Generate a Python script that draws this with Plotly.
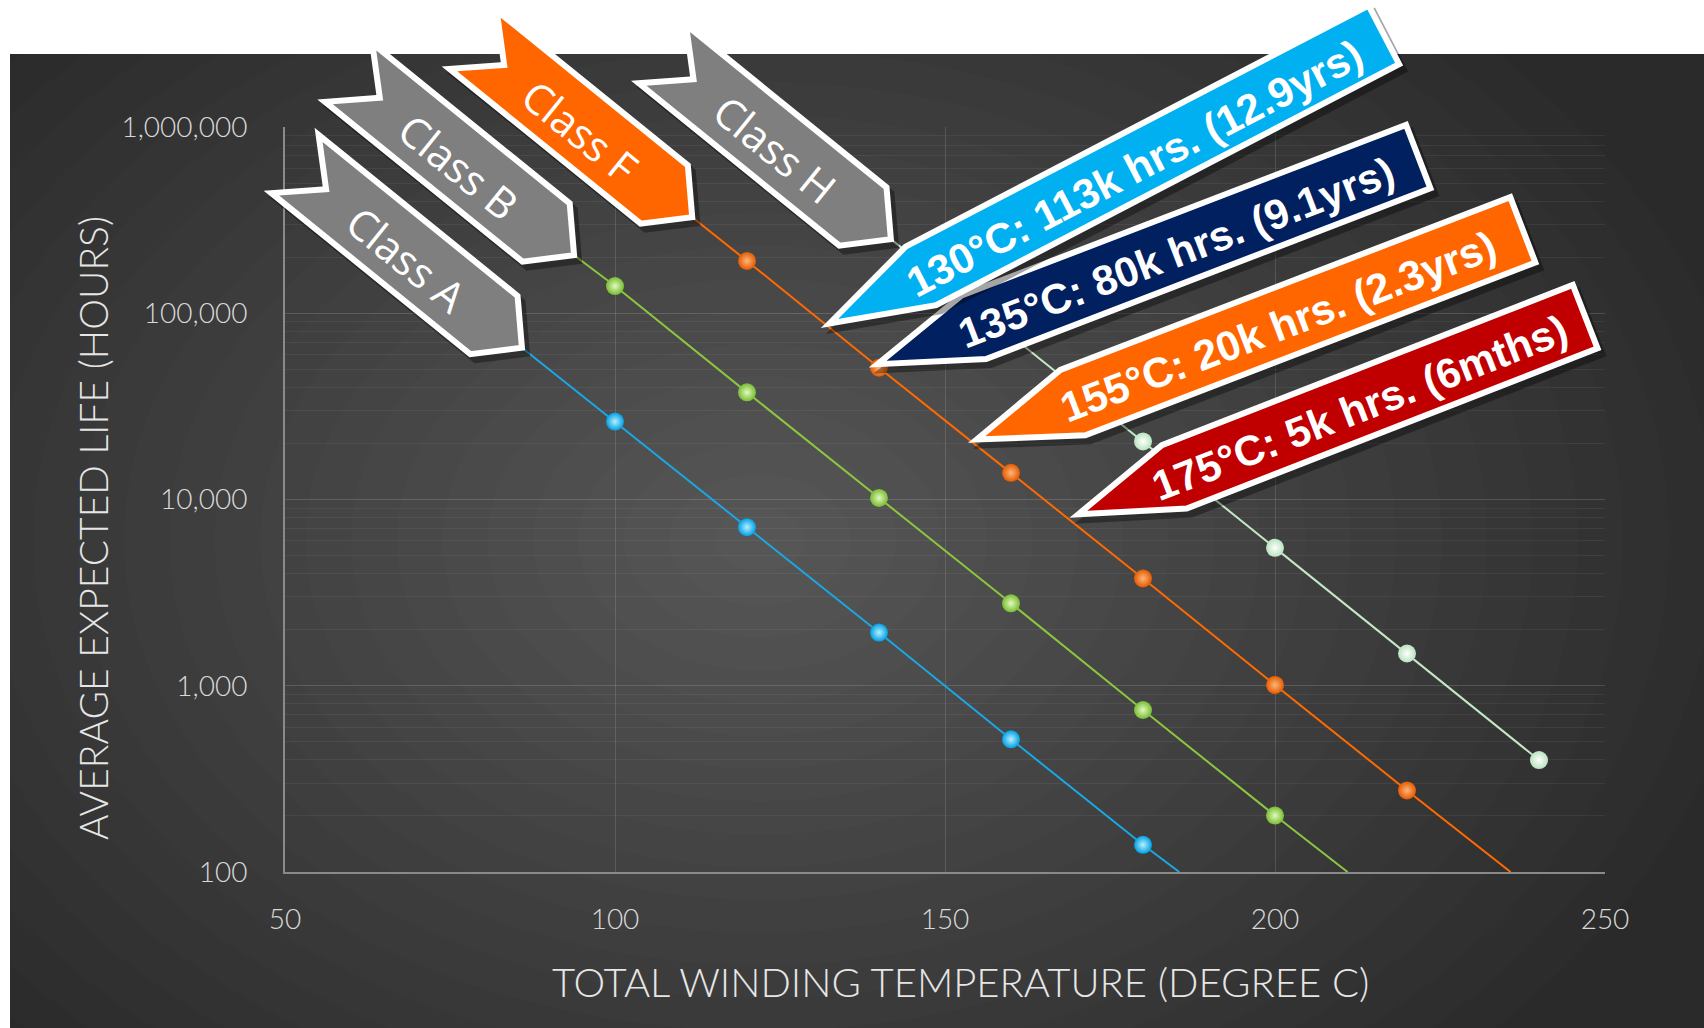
import math
import plotly.graph_objects as go

# ---------------- data ----------------
temp_A = [100, 120, 140, 160, 180]
life_A = [26200, 7100, 1930, 516, 140]
temp_B = [100, 120, 140, 160, 180, 200]
life_B = [140000, 37600, 10200, 2770, 741, 201]
temp_F = [120, 140, 160, 180, 200, 220]
life_F = [191000, 51000, 13900, 3770, 1010, 274]
temp_H = [180, 200, 220, 240]
life_H = [20500, 5500, 1490, 399]

# trend-line start / end points (start is where each class banner points)
trend_start_x = [85.9, 93.8, 111.7, 141.8]
trend_start_y = [65300, 205000, 328000, 250000]
trend_end_x = [185.5, 211.0, 235.7, None]
trend_end_y = [100, 100, 100, None]

class_names = ["Class A", "Class B", "Class F", "Class H"]

callout_texts = ["130°C: 113k hrs. (12.9yrs)", "135°C: 80k hrs. (9.1yrs)",
                 "155°C: 20k hrs. (2.3yrs)", "175°C: 5k hrs. (6mths)"]
callout_temp = [132.5, 139.8, 154.8, 170.2]
callout_life = [88100, 53300, 21000, 8330]

x_ticks = [50, 100, 150, 200, 250]
y_ticks = [100, 1000, 10000, 100000, 1000000]
y_ticktext = ["100", "1,000", "10,000", "100,000", "1,000,000"]
x_title = "TOTAL WINDING TEMPERATURE (DEGREE C)"
y_title = "AVERAGE EXPECTED LIFE (HOURS)"

# ---------------- styles ----------------
line_colors = ["#1AA7E3", "#8CC63F", "#FF6A00", "#C4E9C4"]
marker_colors = ["#009FE3", "#78BC32", "#E35A00", "#B9E3BF"]
marker_glow = ["#B5F0FF", "#E2F9BF", "#FFB57A", "#FFFFFF"]
banner_fill = ["#7F7F7F", "#7F7F7F", "#FF6600", "#7F7F7F"]
banner_len = [256, 254, 246, 258]
callout_fill = ["#00B0F0", "#002060", "#FF6600", "#C00000"]
callout_angle = [27.5, 21.0, 21.0, 21.3]
callout_body = [522, 476, 482, 441]
callout_width = [66, 68, 70, 68]

W, H = 1704, 1028
ML, MR, MT, MB = 285, 99, 127, 156
PW, PH = W - ML - MR, H - MT - MB


def px_x(t):
    return ML + (t - 50) / 200 * PW


def px_y(v):
    return MT + (6 - math.log10(v)) / 4 * PH


def pp(X, Y):
    return (X - ML) / PW, (MT + PH - Y) / PH


def path_from(points):
    s = ""
    for i, (X, Y) in enumerate(points):
        a, b = pp(X, Y)
        s += ("M" if i == 0 else "L") + f"{a:.5f},{b:.5f} "
    return s + "Z"


fig = go.Figure()

shapes = []
# dark panel
x0, y0 = pp(10, 54)
x1, y1 = pp(W + 5, H + 5)
shapes.append(dict(type="rect", xref="paper", yref="paper", x0=x0, y0=y1, x1=x1, y1=y0,
                   fillcolor="#2a2a2a", line=dict(width=0), layer="below"))
# radial glow
N = 22
cx, cy, rx, ry = 760, 540, 1000, 720
for i in range(N):
    f = 1 - i / N
    a0, b0 = pp(cx - rx * f, cy + ry * f)
    a1, b1 = pp(cx + rx * f, cy - ry * f)
    shapes.append(dict(type="circle", xref="paper", yref="paper", x0=a0, y0=b0, x1=a1, y1=b1,
                       fillcolor="#ffffff", opacity=0.011, line=dict(width=0), layer="below"))

# ---------------- traces ----------------
series = [(temp_A, life_A), (temp_B, life_B), (temp_F, life_F), (temp_H, life_H)]
for k, (tx, ly) in enumerate(series):
    lx = [trend_start_x[k]] + list(tx)
    lyy = [trend_start_y[k]] + list(ly)
    if trend_end_x[k] is not None:
        lx.append(trend_end_x[k])
        lyy.append(trend_end_y[k])
    fig.add_trace(go.Scatter(x=lx, y=lyy, mode="lines", line=dict(color=line_colors[k], width=2),
                             hoverinfo="skip", showlegend=False))
for k, (tx, ly) in enumerate(series):
    fig.add_trace(go.Scatter(x=tx, y=ly, mode="markers", showlegend=False, name=class_names[k],
                             marker=dict(size=18, color=marker_colors[k], line=dict(width=0),
                                         gradient=dict(type="radial", color=marker_glow[k]))))

annotations = []

# ---------------- class banners (chevrons) ----------------
th = math.radians(39)
u = (math.cos(th), math.sin(th))
v = (-math.sin(th), math.cos(th))
BW, DP, DN = 75, 36, 40
for k in range(4):
    PX, PY = px_x(trend_start_x[k]), px_y(trend_start_y[k])
    Lh = banner_len[k]

    def P(a, b, PX=PX, PY=PY):
        return (PX + a * u[0] + b * v[0], PY + a * u[1] + b * v[1])

    pts = [P(0, 0), P(-DP, -BW / 2), P(-DP - Lh, -BW / 2), P(-DP - Lh + DN, 0),
           P(-DP - Lh, BW / 2), P(-DP, BW / 2)]
    shadow = [(X + 5, Y + 6) for X, Y in pts]
    shapes.append(dict(type="path", xref="paper", yref="paper", path=path_from(shadow),
                       fillcolor="black", line=dict(color="black", width=6), opacity=0.35,
                       layer="above"))
    shapes.append(dict(type="path", xref="paper", yref="paper", path=path_from(pts),
                       fillcolor=banner_fill[k], line=dict(color="white", width=6),
                       layer="above"))
    tx_, ty_ = P(-DP - Lh * 0.43, 3)
    a, b = pp(tx_, ty_)
    annotations.append(dict(x=a, y=b, xref="paper", yref="paper", text=class_names[k],
                            showarrow=False, textangle=39, xanchor="center", yanchor="middle",
                            font=dict(family="Open Sans", size=42, color="white")))

# ---------------- callouts (pentagon arrows) ----------------
CDP = 103
for k in [3, 2, 1, 0]:
    ph = math.radians(callout_angle[k])
    uu = (math.cos(ph), -math.sin(ph))
    vv = (math.sin(ph), math.cos(ph))
    PX, PY = px_x(callout_temp[k]), px_y(callout_life[k])
    Lb, Wd = callout_body[k], callout_width[k]

    def Q(a, b, PX=PX, PY=PY, uu=uu, vv=vv):
        return (PX + a * uu[0] + b * vv[0], PY + a * uu[1] + b * vv[1])

    pts = [Q(0, 0), Q(CDP, -Wd / 2), Q(CDP + Lb, -Wd / 2), Q(CDP + Lb, Wd / 2), Q(CDP, Wd / 2)]
    shadow = [(X + 5, Y + 6) for X, Y in pts]
    shapes.append(dict(type="path", xref="paper", yref="paper", path=path_from(shadow),
                       fillcolor="black", line=dict(color="black", width=6), opacity=0.35,
                       layer="above"))
    shapes.append(dict(type="path", xref="paper", yref="paper", path=path_from(pts),
                       fillcolor=callout_fill[k], line=dict(color="white", width=6),
                       layer="above"))
    tx_, ty_ = Q(CDP + Lb / 2 - 22, 3)
    a, b = pp(tx_, ty_)
    annotations.append(dict(x=a, y=b, xref="paper", yref="paper", text=callout_texts[k],
                            showarrow=False, textangle=-callout_angle[k], xanchor="center",
                            yanchor="middle",
                            font=dict(family="Liberation Sans, Arial", size=42, color="white",
                                      weight="bold")))

# ---------------- axis titles ----------------
a, b = pp(960, 982)
annotations.append(dict(x=a, y=b, xref="paper", yref="paper", text=x_title, showarrow=False,
                        xanchor="center", yanchor="middle",
                        font=dict(family="Lato", size=40, color="#e6e6e6", weight=300)))
a, b = pp(93, 528)
annotations.append(dict(x=a, y=b, xref="paper", yref="paper", text=y_title, showarrow=False,
                        textangle=-90, xanchor="center", yanchor="middle",
                        font=dict(family="Lato", size=39, color="#e6e6e6", weight=300)))

tickfont = dict(family="Lato", size=28, color="#d9d9d9", weight=300)
minor_vals = [m * 10 ** d for d in range(2, 6) for m in range(2, 10)]

fig.update_layout(
    width=W, height=H,
    margin=dict(l=ML, r=MR, t=MT, b=MB, pad=0),
    paper_bgcolor="white", plot_bgcolor="rgba(0,0,0,0)",
    shapes=shapes, annotations=annotations, showlegend=False,
    xaxis=dict(range=[50, 250], tickvals=x_ticks, ticks="outside", ticklen=21,
               tickcolor="rgba(0,0,0,0)", tickfont=tickfont, showgrid=True,
               gridcolor="rgba(255,255,255,0.13)", gridwidth=1, zeroline=False,
               showline=True, linecolor="#8a8a8a", linewidth=2),
    yaxis=dict(type="log", range=[2, 6], tickvals=y_ticks, ticktext=y_ticktext,
               ticks="outside", ticklen=30, tickcolor="rgba(0,0,0,0)", tickfont=tickfont,
               showgrid=True, gridcolor="rgba(255,255,255,0.15)", gridwidth=1,
               minor=dict(tickvals=minor_vals, showgrid=True,
                          gridcolor="rgba(255,255,255,0.06)", gridwidth=1, ticks=""),
               zeroline=False, showline=True, linecolor="#8a8a8a", linewidth=2),
)

fig.write_html("out.html")
